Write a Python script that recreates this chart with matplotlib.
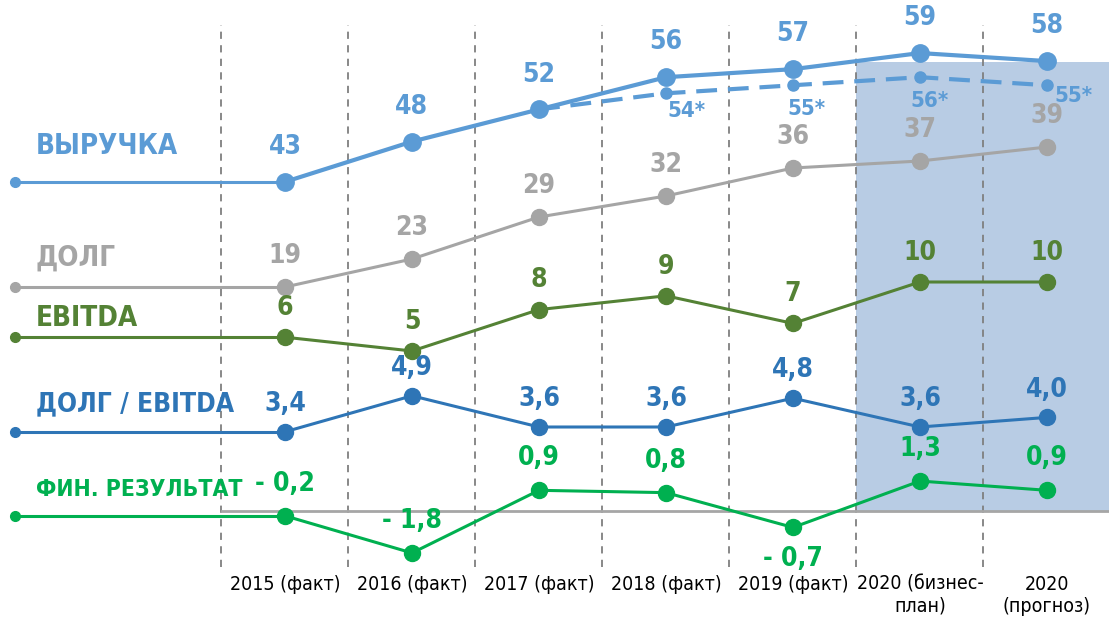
# -*- coding: utf-8 -*-

import matplotlib
matplotlib.use("Agg")
import matplotlib.pyplot as plt
from matplotlib import font_manager

# pick a narrow font if there is one
fonts = font_manager.fontManager.ttflist
names = {f.name for f in fonts}
if "Liberation Sans Narrow" in names:
    plt.rcParams["font.family"] = ["Liberation Sans Narrow", "DejaVu Sans"]
else:
    plt.rcParams["font.family"] = ["DejaVu Sans"]
    if any(f.name == "DejaVu Sans" and f.stretch == "condensed" for f in fonts):
        plt.rcParams["font.stretch"] = "condensed"

# Data
categories = ["2015 (факт)", "2016 (факт)", "2017 (факт)", "2018 (факт)",
              "2019 (факт)", "2020 (бизнес-\nплан)", "2020\n(прогноз)"]
revenue = [43, 48, 52, 56, 57, 59, 58]
revenue_alt = [52, 54, 55, 56, 55]          # dashed variant, from 2017
debt = [19, 23, 29, 32, 36, 37, 39]
ebitda = [6, 5, 8, 9, 7, 10, 10]
debt_ebitda = [3.4, 4.9, 3.6, 3.6, 4.8, 3.6, 4.0]
fin_result = [-0.2, -1.8, 0.9, 0.8, -0.7, 1.3, 0.9]

W, H = 1109, 627
BLUE = "#5B9BD5"
GREY = "#A5A5A5"
DGREEN = "#548235"
DBLUE = "#2E75B6"
GREEN = "#00B050"


def fmt(v, dec=0):
    s = f"{abs(v):.{dec}f}".replace(".", ",")
    return ("- " + s) if v < 0 else s


def ylim_for(px_zero, px_per_unit):
    # each series gets its own vertical scale (pixel of value 0, pixels per unit)
    return ((px_zero - H) / px_per_unit, px_zero / px_per_unit)


fig = plt.figure(figsize=(W / 100, H / 100), dpi=100)
base = fig.add_axes([0, 0, 1, 1])
x0 = -285 / 127
x1 = x0 + W / 127
base.set_xlim(x0, x1)
base.set_ylim(0, 1)
base.axis("off")
stub_x = x0 + 15 / 127
xs = list(range(len(categories)))

# shaded plan/forecast area
base.axvspan(4.5, x1, ymin=1 - 511 / H, ymax=1 - 62 / H,
             color="#B8CCE4", lw=0, zorder=0)
# dashed separators
for i in range(len(categories)):
    base.axvline(i - 0.5, ymin=1 - 567 / H, ymax=1 - 25 / H, color="#7F7F7F",
                 ls=(0, (4, 3.5)), lw=1.3, zorder=1)
# category labels
for i, c in enumerate(categories):
    base.text(i, 1 - 575 / H, c, ha="center", va="top", fontsize=14,
              color="black", linespacing=1.2)


def series(values, lim, color, name, name_dy, lw=2.2, ms=11.5, label_dy=22,
           dec=0, name_size=20, first_lw=None, below=()):
    ax = base.twinx()
    ax.set_ylim(*lim)
    ax.axis("off")
    ax.plot([stub_x, xs[0]], [values[0], values[0]], color=color,
            lw=first_lw or lw, zorder=3)
    ax.plot([stub_x], [values[0]], "o", color=color, ms=7, zorder=4)
    ax.plot(xs, values, "-o", color=color, lw=lw, ms=ms, zorder=4)
    ax.annotate(name, (stub_x, values[0]), xytext=(15, name_dy),
                textcoords="offset points", ha="left", va="center",
                fontsize=name_size, fontweight="bold", color=color)
    for i, v in enumerate(values):
        dy = -label_dy if i in below else label_dy
        ax.annotate(fmt(v, dec), (xs[i], v), xytext=(0, dy),
                    textcoords="offset points", ha="center", va="center",
                    fontsize=19, fontweight="bold", color=color)
    return ax


ax_rev = series(revenue, ylim_for(528, 8.05), BLUE, "ВЫРУЧКА", 26, lw=3,
                ms=12.5, label_dy=25, first_lw=2.2)
ax_rev.plot(xs[2:], revenue_alt, color=BLUE, lw=3, ls=(0, (5, 2.6)), zorder=3)
ax_rev.plot(xs[3:], revenue_alt[1:], "o", color=BLUE, ms=8, zorder=4)
alt_offsets = [(15, -13), (10, -17), (7, -17), (19, -8)]
for i, v, off in zip(xs[3:], revenue_alt[1:], alt_offsets):
    ax_rev.annotate(f"{v}*", (i, v), xytext=off, textcoords="offset points",
                    ha="center", va="center", fontsize=16, fontweight="bold",
                    color=BLUE)

series(debt, ylim_for(420, 7), GREY, "ДОЛГ", 21, label_dy=22)
series(ebitda, ylim_for(420, 13.8), DGREEN, "EBITDA", 14, label_dy=21)
series(debt_ebitda, ylim_for(513.4, 24), DBLUE, "ДОЛГ / EBITDA", 20,
       label_dy=20, dec=1, name_size=19)
ax_fin = series(fin_result, ylim_for(511.2, 23.2), GREEN, "ФИН. РЕЗУЛЬТАТ", 19,
                label_dy=23, dec=1, name_size=16.5, below=(4,))
ax_fin.axhline(0, xmin=222 / W, xmax=1, color="#A6A6A6", lw=2, zorder=2)

fig.savefig("out.png", dpi=100)
